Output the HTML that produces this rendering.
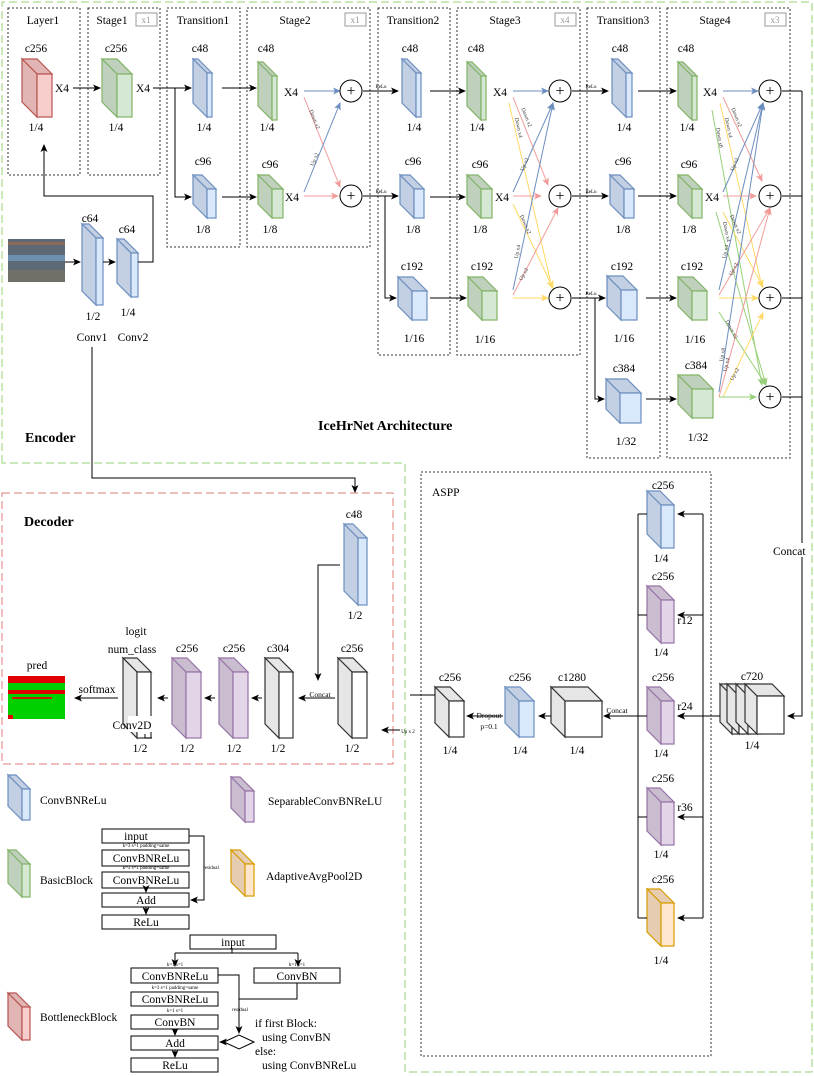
<!DOCTYPE html>
<html><head><meta charset="utf-8"><style>
body{margin:0;background:#fff}
svg{display:block;font-family:"Liberation Serif",serif}
.t{font-size:11.5px;text-anchor:middle}
.b{font-size:14px;font-weight:bold}
</style></head><body>
<svg id="g" width="814" height="1076" viewBox="0 0 814 1076" xmlns="http://www.w3.org/2000/svg">
<defs>
<marker id="a" markerWidth="8" markerHeight="8" refX="7" refY="4" orient="auto" markerUnits="userSpaceOnUse"><path d="M0,0.5 L8,4 L0,7.5 L2,4z" fill="#000"/></marker>
<marker id="ab" markerWidth="8" markerHeight="8" refX="7" refY="4" orient="auto" markerUnits="userSpaceOnUse"><path d="M0,0.5 L8,4 L0,7.5 L2,4z" fill="#6c8ebf"/></marker>
<marker id="ar" markerWidth="8" markerHeight="8" refX="7" refY="4" orient="auto" markerUnits="userSpaceOnUse"><path d="M0,0.5 L8,4 L0,7.5 L2,4z" fill="#f19c99"/></marker>
<marker id="ay" markerWidth="8" markerHeight="8" refX="7" refY="4" orient="auto" markerUnits="userSpaceOnUse"><path d="M0,0.5 L8,4 L0,7.5 L2,4z" fill="#ffd966"/></marker>
<marker id="ag" markerWidth="8" markerHeight="8" refX="7" refY="4" orient="auto" markerUnits="userSpaceOnUse"><path d="M0,0.5 L8,4 L0,7.5 L2,4z" fill="#97d077"/></marker>
</defs>
<path d="M2,463 L2,2 L812,2 L812,1072 L405,1072 L405,463 Z" fill="none" stroke="#97d077" stroke-dasharray="8,4"/>
<rect x="2" y="493" width="391" height="271" fill="none" stroke="#e07b7b" stroke-dasharray="8,4"/>
<g fill="none" stroke="#333" stroke-dasharray="2,2">
<rect x="8" y="8" width="72" height="167"/><rect x="88" y="8" width="72" height="167"/>
<rect x="167" y="8" width="73" height="239"/><rect x="247" y="8" width="123" height="239"/>
<rect x="378" y="8" width="72" height="347"/><rect x="457" y="8" width="123" height="347"/>
<rect x="587" y="8" width="73" height="450"/><rect x="667" y="8" width="123" height="450"/>
<rect x="421" y="472" width="290" height="584"/>
</g>
<g fill="none" stroke="#999"><rect x="136" y="13" width="21" height="13"/><rect x="345" y="13" width="21" height="13"/><rect x="555" y="13" width="21" height="13"/><rect x="765" y="13" width="21" height="13"/></g>
<g fill="#999" font-size="9" text-anchor="middle"><text x="146" y="23">x1</text><text x="355" y="23">x1</text><text x="565" y="23">x4</text><text x="775" y="23">x3</text></g>
<g id="cubes"></g>
<rect x="8" y="239" width="57" height="43" fill="#5d6a76"/><rect x="8" y="242" width="57" height="3" fill="#8b6a5a"/><rect x="8" y="255" width="57" height="6" fill="#6d8fb0"/><rect x="8" y="270" width="57" height="12" fill="#707068"/>
<rect x="8" y="676" width="57" height="43" fill="#00d000"/><rect x="8" y="676" width="57" height="7" fill="#e00000"/><rect x="8" y="690" width="57" height="4" fill="#e00000"/><rect x="12" y="697" width="40" height="2" fill="#c02000"/><rect x="8" y="715" width="5" height="4" fill="#e00000"/>
<g id="lines" fill="none" stroke="#000"></g>
<g fill="#fff" stroke="#000"><circle cx="351" cy="91" r="11"/><circle cx="351" cy="196" r="11"/><circle cx="560" cy="91" r="11"/><circle cx="560" cy="196" r="11"/><circle cx="560" cy="298" r="11"/><circle cx="770" cy="91" r="11"/><circle cx="770" cy="196" r="11"/><circle cx="770" cy="298" r="11"/><circle cx="770" cy="397" r="11"/></g>
<g font-size="16" text-anchor="middle"><text x="351" y="96">+</text><text x="351" y="201">+</text><text x="560" y="96">+</text><text x="560" y="201">+</text><text x="560" y="303">+</text><text x="770" y="96">+</text><text x="770" y="201">+</text><text x="770" y="303">+</text><text x="770" y="402">+</text></g>
<g class="t">
<text x="43" y="24">Layer1</text><text x="112" y="24">Stage1</text><text x="203" y="24">Transition1</text><text x="295" y="24">Stage2</text><text x="413" y="24">Transition2</text><text x="505" y="24">Stage3</text><text x="623" y="24">Transition3</text><text x="715" y="24">Stage4</text>
<text x="36" y="52">c256</text><text x="116" y="52">c256</text><text x="200" y="52">c48</text><text x="266" y="52">c48</text><text x="410" y="52">c48</text><text x="476" y="52">c48</text><text x="620" y="52">c48</text><text x="686" y="52">c48</text>
<text x="36" y="131">1/4</text><text x="116" y="131">1/4</text><text x="204" y="131">1/4</text><text x="267" y="131">1/4</text><text x="414" y="131">1/4</text><text x="477" y="131">1/4</text><text x="624" y="131">1/4</text><text x="687" y="131">1/4</text>
<text x="203" y="165">c96</text><text x="270" y="168">c96</text><text x="413" y="165">c96</text><text x="480" y="168">c96</text><text x="623" y="165">c96</text><text x="689" y="168">c96</text>
<text x="203" y="233">1/8</text><text x="270" y="233">1/8</text><text x="413" y="233">1/8</text><text x="480" y="233">1/8</text><text x="623" y="233">1/8</text><text x="689" y="233">1/8</text>
<text x="412" y="270">c192</text><text x="482" y="270">c192</text><text x="622" y="270">c192</text><text x="692" y="270">c192</text>
<text x="414" y="342">1/16</text><text x="485" y="343">1/16</text><text x="624" y="342">1/16</text><text x="695" y="343">1/16</text>
<text x="624" y="372">c384</text><text x="696" y="369">c384</text><text x="626" y="445">1/32</text><text x="698" y="441">1/32</text>
<text x="62" y="92">X4</text><text x="143" y="92">X4</text><text x="291" y="96">X4</text><text x="292" y="201">X4</text><text x="500" y="96">X4</text><text x="502" y="201">X4</text><text x="710" y="96">X4</text><text x="712" y="201">X4</text>
<text x="90" y="222">c64</text><text x="127" y="233">c64</text><text x="93" y="320">1/2</text><text x="128" y="316">1/4</text><text x="92" y="341">Conv1</text><text x="133" y="341">Conv2</text>
<text x="354" y="518">c48</text><text x="355" y="619">1/2</text>
<text x="352" y="652">c256</text><text x="278" y="652">c304</text><text x="234" y="652">c256</text><text x="187" y="652">c256</text><text x="136" y="635">logit</text><text x="132" y="653">num_class</text><text x="37" y="669">pred</text>
<text x="352" y="752">1/2</text><text x="278" y="752">1/2</text><text x="234" y="752">1/2</text><text x="187" y="752">1/2</text><text x="140" y="752">1/2</text>
<text x="132" y="729">Conv2D</text><text x="97" y="693">softmax</text>
<text x="663" y="489">c256</text><text x="663" y="580">c256</text><text x="663" y="681">c256</text><text x="663" y="782">c256</text><text x="663" y="883">c256</text>
<text x="661" y="562">1/4</text><text x="661" y="656">1/4</text><text x="661" y="757">1/4</text><text x="661" y="858">1/4</text><text x="661" y="964">1/4</text>
<text x="685" y="624">r12</text><text x="685" y="710">r24</text><text x="685" y="811">r36</text>
<text x="752" y="680">c720</text><text x="752" y="749">1/4</text>
<text x="572" y="681">c1280</text><text x="577" y="754">1/4</text><text x="520" y="681">c256</text><text x="520" y="754">1/4</text><text x="450" y="681">c256</text><text x="450" y="754">1/4</text>
<text x="136" y="840">input</text><text x="146" y="862">ConvBNReLu</text><text x="146" y="884">ConvBNReLu</text><text x="146" y="904">Add</text><text x="146" y="926">ReLu</text>
<text x="233" y="946">input</text><text x="175" y="980">ConvBNReLu</text><text x="297" y="980">ConvBN</text><text x="175" y="1003">ConvBNReLu</text><text x="175" y="1026">ConvBN</text><text x="175" y="1047">Add</text><text x="175" y="1069">ReLu</text>
</g>
<rect x="772" y="543" width="36" height="14" fill="#fff"/>
<g font-size="11.5"><text x="773" y="555">Concat</text><text x="40" y="804">ConvBNReLu</text><text x="268" y="805">SeparableConvBNReLU</text><text x="40" y="884">BasicBlock</text><text x="266" y="880">AdaptiveAvgPool2D</text><text x="40" y="1021">BottleneckBlock</text><text x="432" y="496">ASPP</text>
<text x="255" y="1027">if first Block:</text><text x="262" y="1041">using ConvBN</text><text x="255" y="1055">else:</text><text x="262" y="1069">using ConvBNReLu</text></g>
<g font-size="7.5" text-anchor="middle"><text x="320" y="697">Concat</text><text x="617" y="713">Concat</text><text x="489" y="718">Dropout</text><text x="489" y="729">p=0.1</text></g>
<g font-size="5" text-anchor="middle"><text x="381" y="88">ReLu</text><text x="381" y="193">ReLu</text><text x="591" y="88">ReLu</text><text x="591" y="193">ReLu</text><text x="591" y="295">ReLu</text><text x="408" y="733">Up x 2</text><text x="211" y="869">residual</text><text x="240" y="1011">residual</text>
<text x="146" y="847">k=3 s=1 padding=same</text><text x="146" y="869">k=3 s=1 padding=same</text><text x="175" y="966">k=1 s=1</text><text x="297" y="966">k=1 s=1</text><text x="175" y="989">k=3 s=1 padding=same</text><text x="175" y="1012">k=1 s=1</text></g>
<g font-size="5.5" text-anchor="middle" fill="#333">
<text transform="translate(313,120) rotate(68)">Down x2</text><text transform="translate(316,160) rotate(-66)">Up x2</text>
<text transform="translate(525,118) rotate(68)">Down x2</text><text transform="translate(517,128) rotate(77)">Down x4</text><text transform="translate(526,165) rotate(-66)">Up x2</text><text transform="translate(524,225) rotate(66)">Down x2</text><text transform="translate(519,252) rotate(-78)">Up x4</text><text transform="translate(525,275) rotate(-62)">Up x2</text>
<text transform="translate(735,118) rotate(68)">Down x2</text><text transform="translate(727,128) rotate(77)">Down x4</text><text transform="translate(718,138) rotate(80)">Down x8</text><text transform="translate(736,165) rotate(-66)">Up x2</text>
<text transform="translate(734,225) rotate(66)">Down x2</text><text transform="translate(725,232) rotate(78)">Down x4</text><text transform="translate(727,252) rotate(-78)">Up x4</text><text transform="translate(735,270) rotate(-62)">Up x2</text>
<text transform="translate(730,330) rotate(62)">Down x2</text><text transform="translate(724,355) rotate(-80)">Up x8</text><text transform="translate(728,365) rotate(-78)">Up x4</text><text transform="translate(736,375) rotate(-62)">Up x2</text>
</g>
<g class="b"><text x="25" y="442">Encoder</text><text x="318" y="430">IceHrNet  Architecture</text><text x="24" y="526">Decoder</text></g>
<g fill="none" stroke="#000"><rect x="102" y="829" width="87" height="14"/><rect x="102" y="850" width="87" height="16"/><rect x="102" y="872" width="87" height="16"/><rect x="102" y="893" width="87" height="14"/><rect x="102" y="915" width="87" height="14"/>
<rect x="190" y="935" width="86" height="14"/><rect x="131" y="968" width="87" height="15"/><rect x="254" y="968" width="86" height="15"/><rect x="131" y="992" width="87" height="14"/><rect x="131" y="1015" width="87" height="14"/><rect x="131" y="1036" width="87" height="14"/><rect x="131" y="1058" width="87" height="14"/>
<path d="M224,1042 L239,1035 L254,1042 L239,1049 Z"/></g>
</svg>
<script>
var NS="http://www.w3.org/2000/svg";
var C={b:["#dae8fc","#c3cfe2","#6c8ebf"],g:["#d5e8d4","#bfd1bd","#82b366"],r:["#f8cecc","#e1b5b4","#b85450"],p:["#e1d5e7","#cbbdd0","#9673a6"],o:["#ffe6cc","#e6cdb2","#d79b00"],w:["#ffffff","#e6e6e6","#333333"]};
function el(p,t,a){var e=document.createElementNS(NS,t);for(var k in a)e.setAttribute(k,a[k]);p.appendChild(e);return e;}
var cg=document.getElementById("cubes");
function cube(x,y,w,h,c,d){d=d||14;var fw=w-d,fh=h-d,k=C[c];
el(cg,"polygon",{points:[x,y,x+fw,y,x+w,y+d,x+d,y+d].join(","),fill:k[1],stroke:k[2],"stroke-width":1.2});
el(cg,"polygon",{points:[x,y,x+d,y+d,x+d,y+h,x,y+fh].join(","),fill:k[1],stroke:k[2],"stroke-width":1.2});
el(cg,"rect",{x:x+d,y:y+d,width:fw,height:fh,fill:k[0],stroke:k[2],"stroke-width":1.2});}
[[22,59,30,58,"r",15],[102,59,30,58,"g",15],[193,59,19,58,"b"],[193,175,23,43,"b"],[258,62,19,58,"g"],[258,175,25,43,"g"],
[402,59,19,58,"b"],[400,175,24,43,"b"],[398,277,29,43,"b"],[467,62,19,58,"g"],[467,175,25,43,"g"],[468,277,29,43,"g"],
[612,59,20,58,"b"],[610,175,24,43,"b"],[607,276,30,44,"b"],[606,379,35,44,"b"],[678,62,19,58,"g"],[678,175,24,43,"g"],[678,277,29,43,"g"],[678,375,35,43,"g"],
[82,224,21,81,"b"],[117,239,21,58,"b"],[344,524,23,81,"b"],[338,658,29,80,"w"],[265,658,28,80,"w"],[219,658,29,80,"p"],[172,658,29,80,"p"],[123,658,28,80,"w"],
[647,491,27,57,"b"],[647,586,27,57,"p"],[647,687,27,57,"p"],[647,788,27,57,"p"],[647,889,27,57,"o"],
[551,687,51,50,"w"],[505,687,29,50,"b"],[435,687,29,50,"w"],[720,684,24,50,"w",12],[727,684,24,50,"w",12],[736,684,26,50,"w",12],[745,684,39,50,"w",12],
[8,775,22,45,"b"],[231,777,23,45,"p"],[8,850,22,47,"g"],[231,850,23,46,"o"],[8,993,22,47,"r"]].forEach(function(a){cube.apply(null,a);});
el(cg,"rect",{x:128,y:716,width:36,height:16,fill:"#fff"});
var lg=document.getElementById("lines");
function L(d,m,col){var a={d:d};if(m)a["marker-end"]="url(#"+m+")";if(col)a.stroke=col;el(lg,"path",a);}
var blk=["M73,88H100","M153,88H191","M175,88V197H191","M222,88H256","M222,197H256","M363,91H398","M363,196H398","M385,196V298H396",
"M430,91H465","M430,197H465","M430,298H466","M572,91H608","M572,196H608","M572,298H605","M595,298V399H604",
"M638,91H676","M638,196H676","M646,298H676","M646,399H676",
"M65,262H80","M103,262H115","M138,262H153V196H44V145","M92,347V478H355V492",
"M340,565H318V680","M335,698H299","M262,698H252","M215,698H205","M168,698H158","M118,698H75","M400,730H382",
"M782,91H802M782,196H802M782,298H802M782,397H802","M802,91V716H788","M720,716H678","M703,514V918","M638,514V918",
"M638,716H604","M551,716H539","M503,716H467","M435,695H410",
"M189,836H204V900H191","M232,949V953","M175,953H298","M175,953V966","M298,953V966","M218,975H239V1033","M297,983V999H239","M224,1042H220",
"M146,887V892","M146,907V914","M175,1029V1035","M175,1050V1057","M145,734V738H152"];
blk.forEach(function(d){var m=/H(\d+)$|V(\d+)$/.test(d)&&!/^M782|M703|M638,514|M175,953H|M297|M232|M435|M145/.test(d)?"a":null;L(d,m);});
[514,615,716,817,918].forEach(function(y){L("M703,"+y+"H678","a");L("M638,"+y+"H647");});
function ln(x1,y1,x2,y2,c){var m={"#6c8ebf":"ab","#f19c99":"ar","#ffd966":"ay","#97d077":"ag"}[c];L("M"+x1+","+y1+"L"+x2+","+y2,m,c);}
var B="#6c8ebf",R="#f19c99",Y="#ffd966",G="#97d077";
ln(304,91,340,91,B);ln(304,97,340,187,R);ln(304,192,340,103,B);ln(304,196,338,196,R);
ln(513,91,548,91,B);ln(513,97,548,185,R);ln(509,103,552,288,Y);ln(513,192,553,103,B);ln(513,196,541,196,R);ln(513,204,553,288,Y);ln(513,290,553,103,B);ln(513,295,558,208,R);ln(513,298,548,298,Y);
ln(723,91,758,91,B);ln(723,97,762,181,R);ln(720,103,762,287,Y);ln(712,110,762,385,G);
ln(723,192,763,103,B);ln(723,196,756,196,R);ln(723,212,763,287,Y);ln(716,212,766,385,G);
ln(719,290,763,103,B);ln(719,295,770,208,R);ln(719,298,758,298,Y);ln(719,312,766,385,G);
ln(719,392,763,103,B);ln(719,397,770,208,R);ln(723,397,763,313,Y);ln(719,397,756,397,G);
</script>
</body></html>
